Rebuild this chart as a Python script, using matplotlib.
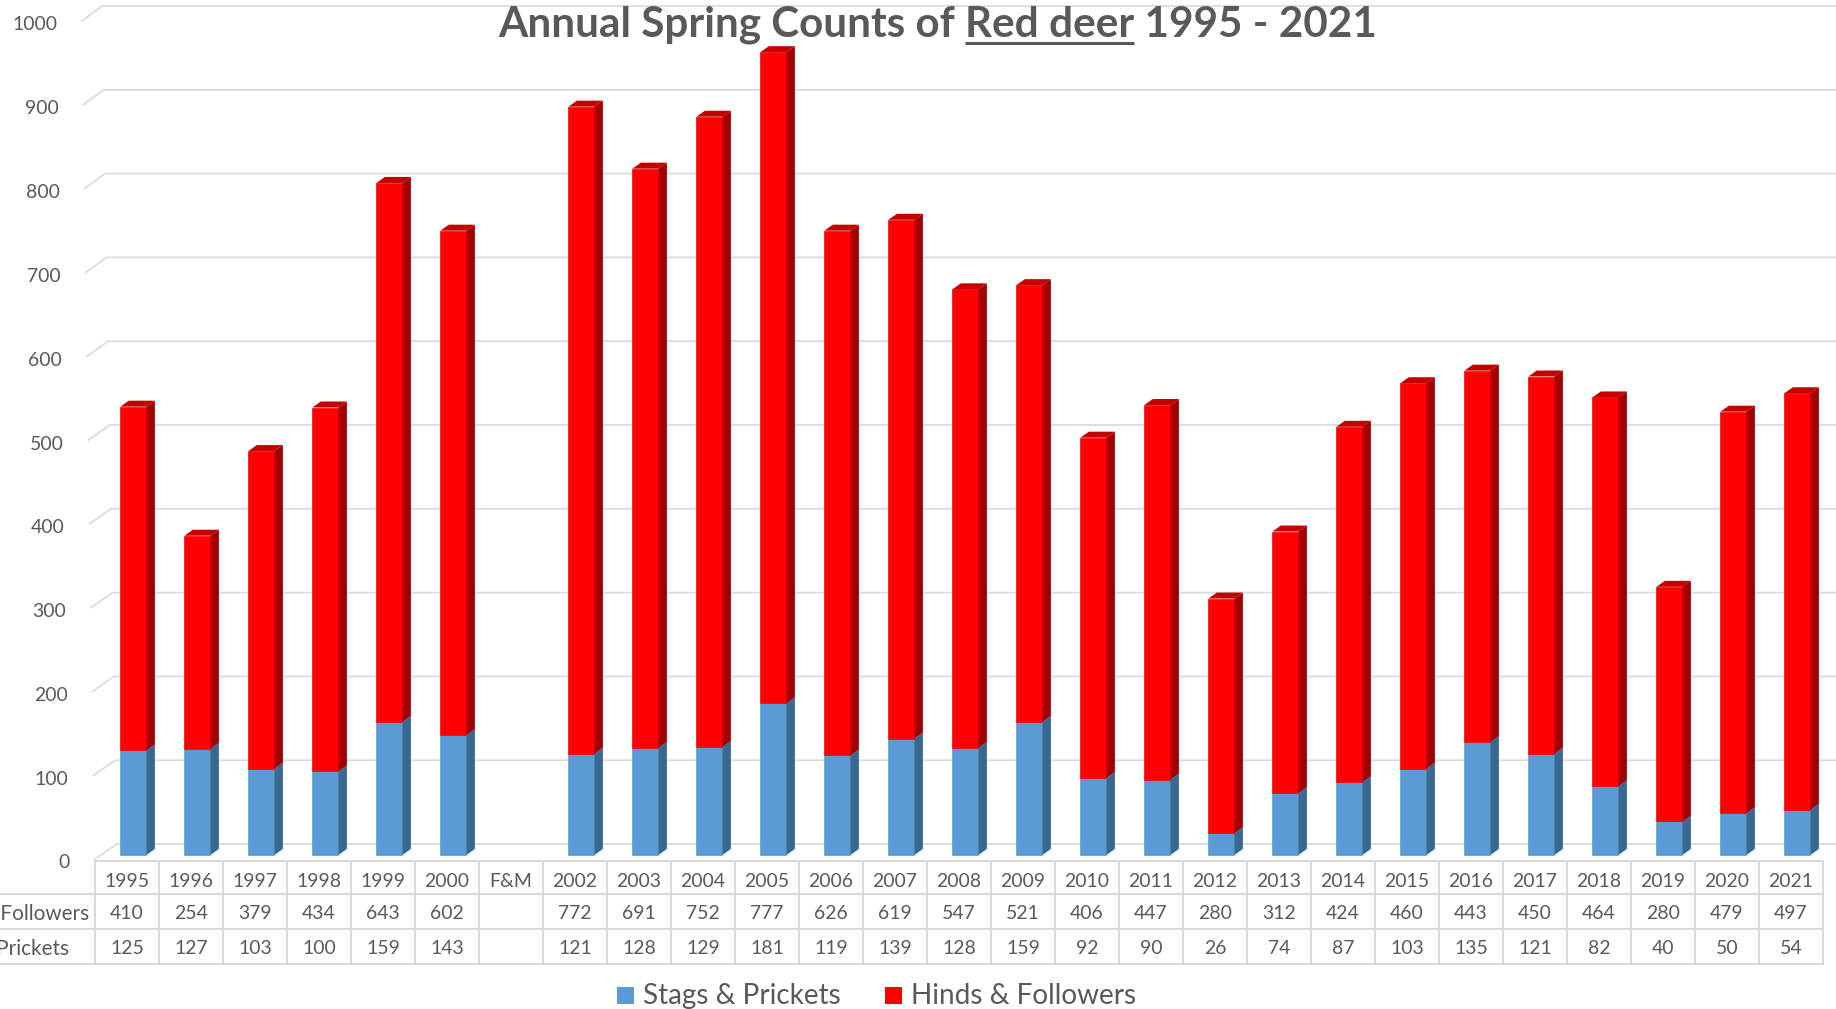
import matplotlib
matplotlib.use("Agg")
import matplotlib.pyplot as plt
import numpy as np
from matplotlib.patches import Polygon, Rectangle

categories = ["1995", "1996", "1997", "1998", "1999", "2000", "F&M",
              "2002", "2003", "2004", "2005", "2006", "2007", "2008", "2009",
              "2010", "2011", "2012", "2013", "2014", "2015", "2016", "2017",
              "2018", "2019", "2020", "2021"]
hinds_followers = [410, 254, 379, 434, 643, 602, None,
                   772, 691, 752, 777, 626, 619, 547, 521,
                   406, 447, 280, 312, 424, 460, 443, 450,
                   464, 280, 479, 497]
stags_prickets = [125, 127, 103, 100, 159, 143, None,
                  121, 128, 129, 181, 119, 139, 128, 159,
                  92, 90, 26, 74, 87, 103, 135, 121,
                  82, 40, 50, 54]
y_ticks = [0, 100, 200, 300, 400, 500, 600, 700, 800, 900, 1000]
series_labels = ["Stags & Prickets", "Hinds & Followers"]
title_before = "Annual Spring Counts of "
title_underlined = "Red deer"
title_after = " 1995 - 2021"

W, H, DPI = 1836, 1009, 100
FONT = ["Lato", "DejaVu Sans"]
TEXT = "#595959"
GRID = "#d9d9d9"
BLUE = ("#5b9bd5", "#3b6790", "#4a80b3")   # front, side, top
RED = ("#ff0000", "#a50000", "#c40000")

# layout in image pixels, measured from the top-left corner
PLOT_L, PLOT_R = 95, 1823
BASE_Y, TOP_Y = 855, 17
n = len(categories)
COL_PX = (PLOT_R - PLOT_L) / n
PX_PER_UNIT = (BASE_Y - TOP_Y) / 1000


def px_x(px):
    return -0.5 + (px - PLOT_L) / COL_PX


def px_y(py):
    return (BASE_Y - py) / PX_PER_UNIT


fig = plt.figure(figsize=(W / DPI, H / DPI), dpi=DPI)
fig.patch.set_facecolor("white")
ax = fig.add_axes([PLOT_L / W, 1 - BASE_Y / H, (PLOT_R - PLOT_L) / W, (BASE_Y - TOP_Y) / H])
ax.set_xlim(-0.5, n - 0.5)
ax.set_ylim(0, 1000)
ax.axis("off")

renderer = fig.canvas.get_renderer()


def text_width(s, **kw):
    t = fig.text(0, 0, s, **kw)
    w = t.get_window_extent(renderer).width
    t.remove()
    return w


def fit_size(s, target_px, **kw):
    return 20 * target_px / text_width(s, fontsize=20, family=FONT, **kw)


num_size = fit_size("1995", 45)
row_label_size = fit_size("Followers", 89)
legend_size = fit_size(series_labels[0], 198)
title_full = title_before + title_underlined + title_after
title_size = fit_size(title_full, 878, fontweight="bold")

# back wall gridlines with the little depth diagonal on the left
for v in y_ticks:
    t = v / 1000
    front_x = PLOT_L - 13 * t
    back_x = PLOT_L + 22 - 15 * t
    front_y = BASE_Y + 4 - v * PX_PER_UNIT
    back_y = BASE_Y - 11 - v * PX_PER_UNIT
    ax.plot([px_x(front_x), px_x(back_x), px_x(W)],
            [px_y(front_y), px_y(back_y), px_y(back_y)],
            color=GRID, lw=1.2, clip_on=False, zorder=1)
    ax.text(px_x(front_x - 25), px_y(front_y + 2.5), str(v), ha="right", va="center_baseline",
            fontsize=num_size, family=FONT, color=TEXT)

# 3d-looking stacked columns
idx = [i for i, v in enumerate(stags_prickets) if v is not None]
xs = np.array(idx, dtype=float) + 0.10
stags = np.array([stags_prickets[i] for i in idx], dtype=float)
hinds = np.array([hinds_followers[i] for i in idx], dtype=float)
BAR_W = 26 / COL_PX
DX = 8.5 / COL_PX
DY = 6 / PX_PER_UNIT


def draw_columns(xc, bottom, height, colors, z):
    front, side, top = colors
    ax.bar(xc, height, bottom=bottom, width=BAR_W, color=front, edgecolor=front,
           linewidth=0.5, zorder=z, clip_on=False)
    for xi, b, h in zip(xc, bottom, height):
        left, right, tp = xi - BAR_W / 2, xi + BAR_W / 2, b + h
        ax.add_patch(Polygon([(right, b), (right + DX, b + DY), (right + DX, tp + DY), (right, tp)],
                             closed=True, facecolor=side, edgecolor="none", zorder=z, clip_on=False))
        ax.add_patch(Polygon([(left, tp), (left + DX, tp + DY), (right + DX, tp + DY), (right, tp)],
                             closed=True, facecolor=top, edgecolor="none", zorder=z, clip_on=False))


draw_columns(xs, np.zeros_like(stags), stags, BLUE, 3)
draw_columns(xs, stags, hinds, RED, 4)

# data table under the plot
row_lines = [861, 894, 929, 964]
line_kw = dict(color=GRID, lw=1.4, clip_on=False, zorder=1)
ax.plot([-0.5, n - 0.5], [px_y(row_lines[0])] * 2, **line_kw)
for py in row_lines[1:]:
    ax.plot([px_x(0), n - 0.5], [px_y(py)] * 2, **line_kw)
for k in range(n + 1):
    ax.plot([k - 0.5] * 2, [px_y(row_lines[0]), px_y(row_lines[-1])], **line_kw)

table_rows = [
    categories,
    ["" if v is None else str(v) for v in hinds_followers],
    ["" if v is None else str(v) for v in stags_prickets],
]
row_centres = [880, 912, 947]
for cells, cy in zip(table_rows, row_centres):
    for i, s in enumerate(cells):
        ax.text(i, px_y(cy), s, ha="center", va="center_baseline",
                fontsize=num_size, family=FONT, color=TEXT, clip_on=False)

# row labels run off the left edge of the picture, as in the original
hind_label = ax.text(px_x(89), px_y(row_centres[1]), series_labels[1], ha="right",
                     va="center_baseline", fontsize=row_label_size, family=FONT, color=TEXT)
label_left = hind_label.get_window_extent(renderer).x0
ax.text(px_x(label_left), px_y(row_centres[2]), series_labels[0], ha="left",
        va="center_baseline", fontsize=row_label_size, family=FONT, color=TEXT)

# legend
for (sq_x, txt_x), label, color in zip([(617, 643), (885, 911)], series_labels, [BLUE[0], RED[0]]):
    ax.add_patch(Rectangle((px_x(sq_x), px_y(1004)), 17 / COL_PX, 17 / PX_PER_UNIT,
                           facecolor=color, edgecolor="none", clip_on=False))
    ax.text(px_x(txt_x), px_y(1004), label, ha="left", va="baseline",
            fontsize=legend_size, family=FONT, color=TEXT)

# title with "Red deer" underlined
TITLE_L, TITLE_BASE = 498, 36
ax.text(px_x(TITLE_L), px_y(TITLE_BASE), title_full, ha="left", va="baseline",
        fontsize=title_size, family=FONT, fontweight="bold", color=TEXT, zorder=6)
tkw = dict(fontsize=title_size, family=FONT, fontweight="bold")
u_end = TITLE_L + text_width(title_before + title_underlined, **tkw)
u_start = u_end - text_width(title_underlined, **tkw)
ax.plot([px_x(u_start), px_x(u_end)], [px_y(43)] * 2, color=TEXT, lw=2.2,
        solid_capstyle="butt", clip_on=False, zorder=6)

fig.savefig("out.png", dpi=DPI, facecolor="white")
